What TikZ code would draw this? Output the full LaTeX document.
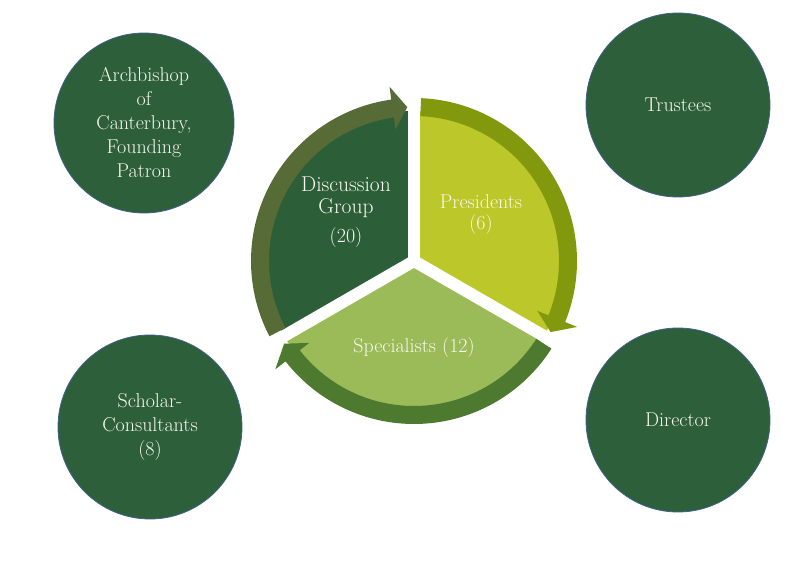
\documentclass[tikz,border=0pt]{standalone}
\begin{document}
\begin{tikzpicture}[x=1pt,y=1pt,
  bigc/.style={circle, minimum size=184pt, inner sep=0pt, fill=outerg, draw=rimblue, line width=0.8pt,
    text=txt, align=center, font=\fontsize{20}{24}\selectfont},
  lbl/.style={text=txt, align=center, inner sep=0pt, font=\fontsize{20}{24}\selectfont},
  gap/.style={white, line width=12pt}
]
\definecolor{outerg}{HTML}{2D5F3A}
\definecolor{rimblue}{HTML}{41608F}
\definecolor{txt}{HTML}{F8F8EE}
\definecolor{discfill}{HTML}{2C5E38}
\definecolor{discband}{HTML}{566B36}
\definecolor{presfill}{HTML}{BCC829}
\definecolor{presband}{HTML}{82990E}
\definecolor{specfill}{HTML}{9BBB59}
\definecolor{specband}{HTML}{4E7A30}

\useasboundingbox (0,0) rectangle (806,560);
\fill[white] (0,0) rectangle (806,560);

% outer circles
\node[bigc, minimum size=180pt] (arch) at (144,437) {Archbishop\\of\\Canterbury,\\Founding\\Patron};
\node[bigc] (trustees) at (678,455) {Trustees};
\node[bigc] (scholar) at (150,133) {Scholar-\\Consultants\\(8)};
\node[bigc] (director) at (678,140) {Director};

% central segmented cycle
\begin{scope}[shift={(414,299)}]
  % pie sectors
  \fill[discfill] (0,0) -- (90:150) arc[start angle=90, end angle=210, radius=150] -- cycle;
  \fill[presfill] (0,0) -- (-30:150) arc[start angle=-30, end angle=90, radius=150] -- cycle;
  \fill[specfill] (0,0) -- (210:150) arc[start angle=210, end angle=330, radius=150] -- cycle;
  % gaps
  \draw[gap] (0,0) -- (90:170);
  \draw[gap] (0,0) -- (210:170);
  \draw[gap] (0,0) -- (330:170);
  % circular arrows
  \fill[discband] (207.5:163) arc[start angle=207.5, end angle=98, radius=163]
     -- (98:176) -- (92.5:154) -- (98:133) -- (98:145)
     arc[start angle=98, end angle=207.5, radius=145] -- cycle;
  \fill[presband] (87.5:163) arc[start angle=87.5, end angle=-22, radius=163]
     -- (-22:176) -- (-27.5:154) -- (-22:133) -- (-22:145)
     arc[start angle=-22, end angle=87.5, radius=145] -- cycle;
  \fill[specband] (327.5:163) arc[start angle=327.5, end angle=218, radius=163]
     -- (218:176) -- (212.5:154) -- (218:133) -- (218:145)
     arc[start angle=218, end angle=327.5, radius=145] -- cycle;
\end{scope}

% sector labels
\node[lbl, font=\fontsize{21.5}{22}\selectfont] (disc) at (346,348) {Discussion\\Group\\[7pt]{\fontsize{20}{22}\selectfont(20)}};
\node[lbl, font=\fontsize{20}{21}\selectfont] (pres) at (481,345) {Presidents\\(6)};
\node[lbl] (spec) at (414,212) {Specialists (12)};
\end{tikzpicture}
\end{document}
